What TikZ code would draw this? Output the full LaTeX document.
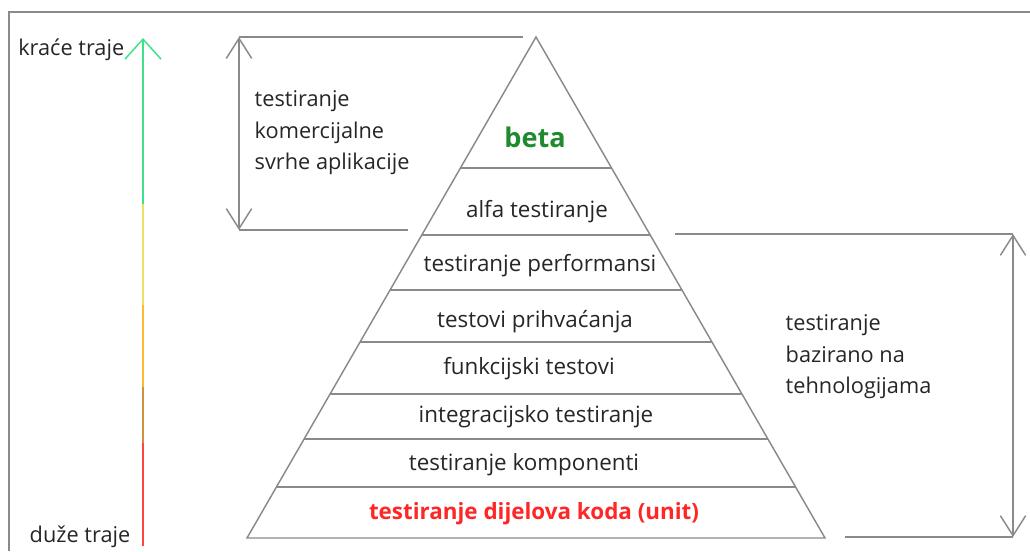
\documentclass[tikz,border=0pt]{standalone}
\usepackage{fontspec}
\setmainfont{Open Sans}
\usetikzlibrary{calc,arrows.meta}
\definecolor{linegray}{HTML}{8A8A8A}
\definecolor{txtgray}{HTML}{262626}
\definecolor{betagreen}{HTML}{1F8A2E}
\definecolor{unitred}{HTML}{FF2626}
\definecolor{barmint}{HTML}{3FE08C}
\definecolor{baryellow}{HTML}{F0E060}
\definecolor{barorange}{HTML}{FFB833}
\definecolor{bartan}{HTML}{D09040}
\definecolor{barred}{HTML}{FF4444}

\begin{document}
\begin{tikzpicture}[x=0.75pt,y=-0.75pt,line width=1.1pt,
    layer label/.style={font=\fontsize{16.8}{19}\selectfont,text=txtgray,inner sep=0pt},
    side label/.style={font=\fontsize{16.3}{23.5}\selectfont,text=txtgray,align=left,anchor=north west,inner sep=0pt},
    end label/.style={font=\fontsize{16.3}{18}\selectfont,text=txtgray,inner sep=0pt},
    bracket/.style={draw=linegray,{Straight Barb[length=15pt,width=19pt]}-{Straight Barb[length=15pt,width=19pt]}},
    edge line/.style={draw=linegray}]
  \useasboundingbox (0,0) rectangle (1030,551);
  % frame
  \draw[linegray,line width=1.5pt] (9,551) -- (9,12) -- (1030,12);

  % pyramid
  \coordinate (apex) at (536,37);
  \coordinate (bl) at (247,538);
  \coordinate (br) at (825,538);
  \draw[edge line] (bl) -- (apex) -- (br) -- cycle;
  \foreach \y in {168,235,290,342,394,439,487}
    \draw[edge line] ($(apex)!{(\y-37)/501}!(bl)$) -- ($(apex)!{(\y-37)/501}!(br)$);

  \node[layer label,font=\fontsize{20.3}{23}\selectfont\bfseries,text=betagreen] (beta) at (535,137) {beta};
  \node[layer label] (alfa) at (537,212) {alfa testiranje};
  \node[layer label] (perf) at (540,266) {testiranje performansi};
  \node[layer label] (prih) at (535,322) {testovi prihvaćanja};
  \node[layer label] (funk) at (529,369) {funkcijski testovi};
  \node[layer label] (integ) at (536,417) {integracijsko testiranje};
  \node[layer label] (komp) at (524,465) {testiranje komponenti};
  \node[layer label,font=\fontsize{16.8}{19}\selectfont\bfseries,text=unitred] (unit) at (534,514) {testiranje dijelova koda (unit)};

  % duration bar
  \coordinate (top) at (143,38);
  \coordinate (c1) at (143,204);
  \coordinate (c2) at (143,305);
  \coordinate (c3) at (143,387);
  \coordinate (c4) at (143,443);
  \coordinate (bot) at (143,546);
  \draw[barred] (bot) -- (c4);
  \draw[bartan] (c4) -- (c3);
  \draw[barorange] (c3) -- (c2);
  \draw[baryellow] (c2) -- (c1);
  \draw[barmint,-{Straight Barb[length=15pt,width=27pt]}] (c1) -- (top);
  \node[end label,anchor=east] (kratko) at (125,50) {kraće traje};
  \node[end label,anchor=east] (dugo) at (131,537) {duže traje};

  % commercial testing bracket
  \coordinate (lt) at (239,37);
  \coordinate (lb) at (239,230);
  \coordinate (lte) at (523,37);
  \coordinate (lbe) at (408,230);
  \draw[edge line] (lte) -- (lt);
  \draw[edge line] (lbe) -- (lb);
  \draw[bracket] (lt) -- (lb);
  \node[side label] (komerc) at (254,90) {testiranje\\komercijalne\\svrhe aplikacije};

  % technology testing bracket
  \coordinate (rt) at (1013,234);
  \coordinate (rb) at (1013,537);
  \coordinate (rte) at (675,234);
  \coordinate (rbe) at (845,537);
  \draw[edge line] (rte) -- (rt);
  \draw[edge line] (rbe) -- (rb);
  \draw[bracket] (rt) -- (rb);
  \node[side label] (tehno) at (785,314) {testiranje\\bazirano na\\tehnologijama};
\end{tikzpicture}
\end{document}
